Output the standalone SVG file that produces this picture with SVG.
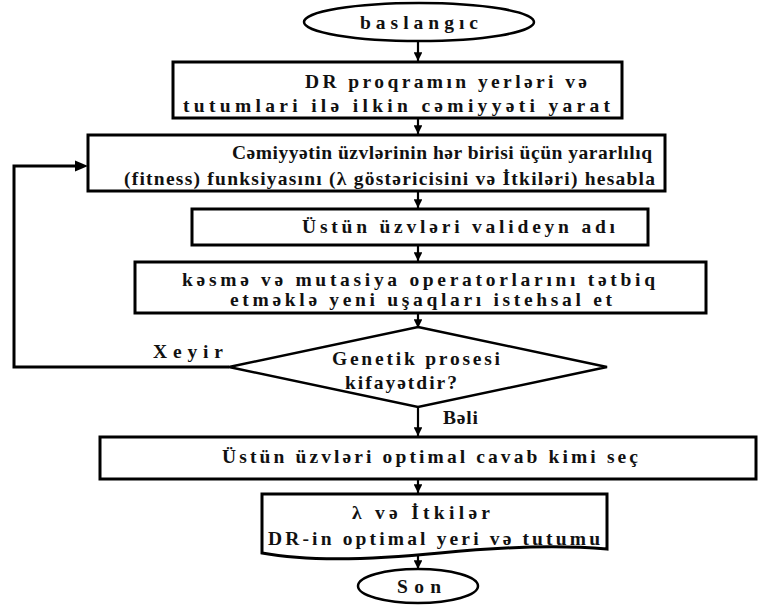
<svg xmlns="http://www.w3.org/2000/svg" width="758" height="612" viewBox="0 0 758 612">
<defs>
<style>
.s{fill:#fff;stroke:#000;stroke-width:3}
.e{fill:#fff;stroke:#000;stroke-width:2.5}
.c{fill:none;stroke:#000;stroke-width:2.2}
.l{fill:none;stroke:#000;stroke-width:3}
.t{font-family:"Liberation Serif",serif;font-weight:700;font-size:19.5px;fill:#111}
</style>
<marker id="a" viewBox="0 0 10 10" refX="10" refY="5" markerWidth="4" markerHeight="4" orient="auto" markerUnits="strokeWidth"><path d="M0,0 L10,5 L0,10 z" fill="#000"/></marker>
</defs>
<rect width="758" height="612" fill="#fff"/>
<g id="connectors">
<line class="c" x1="418" y1="42" x2="418" y2="61" marker-end="url(#a)"/>
<line class="c" x1="418" y1="119" x2="418" y2="134" marker-end="url(#a)"/>
<line class="c" x1="418" y1="192" x2="418" y2="208" marker-end="url(#a)"/>
<line class="c" x1="418" y1="245" x2="418" y2="261" marker-end="url(#a)"/>
<line class="c" x1="418" y1="313" x2="418" y2="328" marker-end="url(#a)"/>
<line class="c" x1="418" y1="406" x2="418" y2="436" marker-end="url(#a)"/>
<line class="c" x1="418" y1="479" x2="418" y2="493" marker-end="url(#a)"/>
<line class="c" x1="418" y1="556" x2="418" y2="569" marker-end="url(#a)"/>
<polyline class="l" points="229,367 14,367 14,166 80,166"/>
<path d="M88,166 L75,160.5 L75,171.5 z" fill="#000"/>
<text class="t" x="153" y="358" textLength="70" lengthAdjust="spacing">Xeyir</text>
<text class="t" x="443" y="424" textLength="35" lengthAdjust="spacing">Bəli</text>
</g>
<g id="start">
<ellipse class="e" cx="419" cy="22" rx="115" ry="19"/>
<text class="t" x="360" y="29" textLength="118" lengthAdjust="spacing">baslangıc</text>
</g>
<g id="init">
<rect class="s" x="173" y="62" width="449" height="56"/>
<text class="t" x="305" y="88" textLength="282" lengthAdjust="spacing">DR proqramın yerləri və</text>
<text class="t" x="183" y="112" textLength="427" lengthAdjust="spacing">tutumlari ilə ilkin cəmiyyəti yarat</text>
</g>
<g id="fitness">
<rect class="s" x="88" y="135" width="577" height="56"/>
<text class="t" x="232" y="159" textLength="420" lengthAdjust="spacing">Cəmiyyətin üzvlərinin hər birisi üçün yararlılıq</text>
<text class="t" x="124" y="185" textLength="531" lengthAdjust="spacing">(fitness) funksiyasını (λ göstəricisini və İtkiləri) hesabla</text>
</g>
<g id="parents">
<rect class="s" x="192" y="209" width="456" height="36"/>
<text class="t" x="302" y="233" textLength="313" lengthAdjust="spacing">Üstün üzvləri valideyn adı</text>
</g>
<g id="crossover">
<rect class="s" x="135" y="262" width="571" height="51"/>
<text class="t" x="182" y="286" textLength="473" lengthAdjust="spacing">kəsmə və mutasiya operatorlarını tətbiq</text>
<text class="t" x="230" y="306" textLength="382" lengthAdjust="spacing">etməklə yeni uşaqları istehsal et</text>
</g>
<g id="decision">
<polygon class="e" points="418,327 607,367 418,407 229,367"/>
<text class="t" x="332" y="365" textLength="168" lengthAdjust="spacing">Genetik prosesi</text>
<text class="t" x="345" y="389" textLength="112" lengthAdjust="spacing">kifayətdir?</text>
</g>
<g id="select">
<rect class="s" x="100" y="437" width="656" height="42"/>
<text class="t" x="222" y="463" textLength="416" lengthAdjust="spacing">Üstün üzvləri optimal cavab kimi seç</text>
</g>
<g id="result">
<path class="s" d="M262,494 H607 V549 C560,545 500,547 440,553 C380,559 310,562 262,553 Z"/>
<text class="t" x="352" y="519" textLength="138" lengthAdjust="spacing">λ  və  İtkilər</text>
<text class="t" x="268" y="545" textLength="332" lengthAdjust="spacing">DR-in optimal yeri və tutumu</text>
</g>
<g id="end">
<ellipse class="e" cx="418" cy="586" rx="60" ry="17"/>
<text class="t" x="397" y="593" textLength="44" lengthAdjust="spacing">Son</text>
</g>
</svg>
